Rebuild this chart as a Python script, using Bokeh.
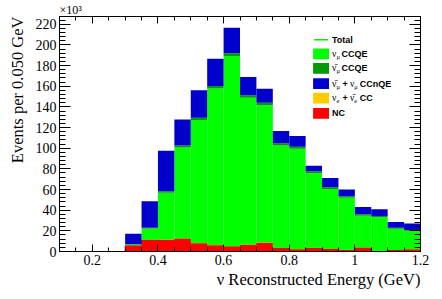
from bokeh.plotting import figure
from bokeh.models import (ColumnDataSource, FixedTicker, LinearAxis, Label,
                          BoxAnnotation, NumeralTickFormatter, Range1d,
                          CustomJSTickFormatter, Title)
from bokeh.embed import file_html
from bokeh.resources import INLINE

# ---------------- data (events per bin, in units of 10^3) ----------------
bin_centers = [0.125, 0.175, 0.225, 0.275, 0.325, 0.375, 0.425, 0.475, 0.525,
               0.575, 0.625, 0.675, 0.725, 0.775, 0.825, 0.875, 0.925, 0.975,
               1.025, 1.075, 1.125, 1.175]
nc = [0, 0, 0, 0, 5.7, 11.2, 11.2, 12.3, 8.0, 6.1, 4.8, 6.2, 8.3, 3.5, 2.1,
      3.4, 2.5, 1.4, 3.6, 0.3, 1.4, 2.0]
nue_cc = [0, 0, 0, 0, 0.1, 0.2, 0.3, 0.3, 0.3, 0.3, 0.3, 0.3, 0.3, 0.2, 0.2,
          0.2, 0.2, 0.2, 0.2, 0.2, 0.1, 0.1]
numu_ccqe = [0, 0, 0, 0, 1.0, 10.8, 45.4, 88.0, 118.9, 151.4, 184.2, 142.4,
             133.1, 99.0, 97.2, 72.2, 57.9, 50.5, 30.9, 32.6, 20.6, 17.9]
numubar_ccqe = [0, 0, 0, 0, 0.3, 0.8, 1.5, 2.0, 2.3, 2.5, 2.7, 2.4, 2.3, 2.1,
                2.0, 1.8, 1.6, 1.5, 1.3, 1.2, 1.0, 0.9]
ccnqe = [0, 0, 0, 0, 10.2, 25.6, 39.1, 25.3, 26.5, 26.2, 24.7, 17.7, 13.5,
         11.9, 10.4, 5.4, 9.0, 6.4, 7.0, 6.5, 5.5, 6.1]
bin_width = 0.05

x_major_ticks = [0.2, 0.4, 0.6, 0.8, 1.0, 1.2]
y_major_ticks = [0, 20, 40, 60, 80, 100, 120, 140, 160, 180, 200, 220]

colors = {
    "nc": "#ff0000",
    "nue_cc": "#ffcc00",
    "numu_ccqe": "#00ff00",
    "numubar_ccqe": "#009900",
    "ccnqe": "#0000cc",
    "total": "#00ee00",
}

# ---------------- figure ----------------
X0, X1 = 0.1, 1.2
Y0, Y1 = 0.0, 227.5
W, H = 442, 299
FL, FR, FT, FB = 57, 22, 14, 48  # frame borders in canvas px

p = figure(width=W, height=H, x_range=Range1d(X0, X1), y_range=Range1d(Y0, Y1),
           output_backend="svg", toolbar_location=None,
           min_border_left=FL, min_border_right=FR,
           min_border_top=FT, min_border_bottom=FB)
p.xgrid.visible = False
p.ygrid.visible = False
p.outline_line_color = "black"
p.outline_line_width = 1
p.background_fill_color = "white"
p.border_fill_color = "white"

src = ColumnDataSource(dict(x=bin_centers, nc=nc, nue_cc=nue_cc,
                            numu_ccqe=numu_ccqe, numubar_ccqe=numubar_ccqe,
                            ccnqe=ccnqe))
stackers = ["nc", "nue_cc", "numu_ccqe", "numubar_ccqe", "ccnqe"]
fills = [colors[s] for s in stackers]
lines = [colors["nc"], None, None, None, None]
p.vbar_stack(stackers, x="x", width=bin_width, source=src,
             fill_color=fills, line_color=lines, line_width=1)

# ---------------- axes ----------------
fw = W - FL - FR
fh = H - FT - FB
xt = FixedTicker(ticks=x_major_ticks,
                 minor_ticks=[round(0.1 + 0.05 * i, 3) for i in range(23)])
yt = FixedTicker(ticks=y_major_ticks, minor_ticks=list(range(0, 228, 4)))


def style_axis(ax, major_in, minor_in, show_labels):
    ax.axis_line_color = "black"
    ax.axis_line_width = 1
    ax.major_tick_line_color = "black"
    ax.minor_tick_line_color = "black"
    ax.major_tick_in = major_in
    ax.major_tick_out = 0
    ax.minor_tick_in = minor_in
    ax.minor_tick_out = 0
    if show_labels:
        ax.major_label_text_font = "Liberation Serif"
        ax.major_label_text_font_size = "14px"
        ax.major_label_text_color = "black"
        ax.major_label_standoff = 3
    else:
        ax.formatter = CustomJSTickFormatter(code="return ''")
        ax.major_label_standoff = 0


xax = p.xaxis[0]
xax.ticker = xt
xax.formatter = NumeralTickFormatter(format="0.[0]")
style_axis(xax, 7, 4, True)

yax = p.yaxis[0]
yax.ticker = yt
style_axis(yax, 11, 6, True)

top_ax = LinearAxis(ticker=xt)
style_axis(top_ax, 7, 4, False)
p.add_layout(top_ax, "above")
right_ax = LinearAxis(ticker=yt)
style_axis(right_ax, 11, 6, False)
p.add_layout(right_ax, "right")

# axis titles, ROOT style (aligned with the end of each axis)
p.add_layout(Title(text="\u03bd Reconstructed Energy (GeV)", align="right",
                   text_font="Liberation Serif", text_font_style="normal",
                   text_font_size="16.5px", text_color="black", standoff=0),
             "below")
p.add_layout(Title(text="Events per 0.050 GeV", align="right",
                   text_font="Liberation Serif", text_font_style="normal",
                   text_font_size="16.5px", text_color="black", standoff=11),
             "left")
p.add_layout(Title(text="\u00d710\u00b3", align="left",
                   text_font="Liberation Serif", text_font_style="normal",
                   text_font_size="12px", text_color="black", standoff=0),
             "above")

# helpers: canvas pixel -> data coordinates
px_per_x = fw / (X1 - X0)
px_per_y = fh / (Y1 - Y0)


def dx(px):
    return X0 + (px - FL) / px_per_x


def dy(py):
    return Y0 + (FT + fh - py) / px_per_y


def lab(text, x, y, size, font="Liberation Serif", style="normal",
        align="left", baseline="middle"):
    p.add_layout(Label(x=dx(x), y=dy(y), text=text, text_font=font,
                       text_font_size=size, text_font_style=style,
                       text_align=align, text_baseline=baseline,
                       text_color="black"))


# ---------------- legend ----------------
bx0, bx1 = 312, 328
tx = 331
row_y = [51.7, 66.3, 81.7, 96.3, 111.7]
row_keys = ["numu_ccqe", "numubar_ccqe", "ccnqe", "nue_cc", "nc"]
p.add_layout(BoxAnnotation(left=dx(bx0 + 1), right=dx(bx1 - 1),
                           bottom=dy(38.3), top=dy(36.7),
                           fill_color=colors["total"], fill_alpha=1,
                           line_color=None))
lab("Total", tx, 37.5, "9px", font="Liberation Sans", style="bold")
for k, ry in zip(row_keys, row_y):
    p.add_layout(BoxAnnotation(left=dx(bx0), right=dx(bx1),
                               bottom=dy(ry + 5.5), top=dy(ry - 5.5),
                               fill_color=colors[k], fill_alpha=1,
                               line_color=None))

NU = "\u03bd"
NUBAR = "\u03bd\u0304"
B = dict(font="Liberation Sans", style="bold")
lab(NU, tx, row_y[0], "9.5px")
lab("\u03bc", tx + 4.5, row_y[0] + 2.5, "6.5px")
lab("CCQE", tx + 9.5, row_y[0], "9px", **B)

lab(NUBAR, tx, row_y[1], "9.5px")
lab("\u03bc", tx + 4.5, row_y[1] + 2.5, "6.5px")
lab("CCQE", tx + 9.5, row_y[1], "9px", **B)

lab(NUBAR, tx, row_y[2], "9.5px")
lab("\u03bc", tx + 4.5, row_y[2] + 2.5, "6.5px")
lab("+", tx + 10.5, row_y[2], "9px", **B)
lab(NU, tx + 18, row_y[2], "9.5px")
lab("\u03bc", tx + 22.5, row_y[2] + 2.5, "6.5px")
lab("CCnQE", tx + 28, row_y[2], "9px", **B)

lab(NU, tx, row_y[3], "9.5px")
lab("e", tx + 4.5, row_y[3] + 2.5, "6.5px")
lab("+", tx + 10.5, row_y[3], "9px", **B)
lab(NUBAR, tx + 18, row_y[3], "9.5px")
lab("e", tx + 22.5, row_y[3] + 2.5, "6.5px")
lab("CC", tx + 28, row_y[3], "9px", **B)

lab("NC", tx, row_y[4], "9px", **B)

open("out.html", "w").write(file_html(p, INLINE))
